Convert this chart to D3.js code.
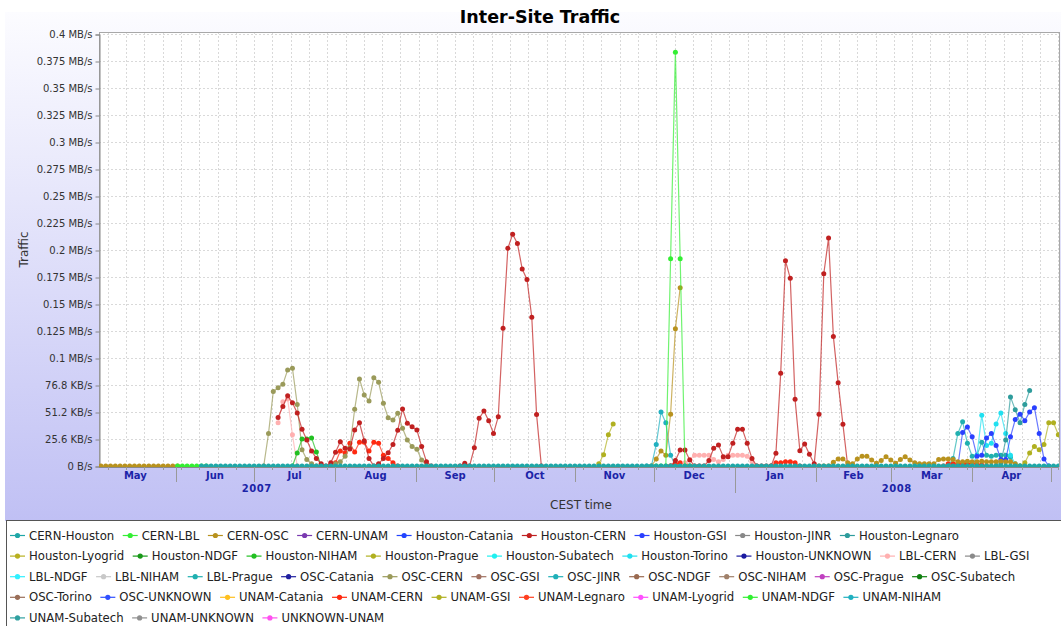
<!DOCTYPE html>
<html><head><meta charset="utf-8">
<script src="https://cdn.jsdelivr.net/npm/d3@7"></script>
<style>
body{margin:0;background:#fff;}
svg{display:block;font-family:"DejaVu Sans",sans-serif;}
</style>
</head><body>
<svg id="chart" width="1061" height="626"></svg>
<script>
// ---------------- data ----------------
const titleText = "Inter-Site Traffic";
const yAxisTitle = "Traffic";
const xAxisTitle = "CEST time";

const seriesNames = ["CERN-Houston","CERN-LBL","CERN-OSC","CERN-UNAM","Houston-Catania","Houston-CERN","Houston-GSI","Houston-JINR","Houston-Legnaro",
  "Houston-Lyogrid","Houston-NDGF","Houston-NIHAM","Houston-Prague","Houston-Subatech","Houston-Torino","Houston-UNKNOWN","LBL-CERN","LBL-GSI",
  "LBL-NDGF","LBL-NIHAM","LBL-Prague","OSC-Catania","OSC-CERN","OSC-GSI","OSC-JINR","OSC-NDGF","OSC-NIHAM","OSC-Prague","OSC-Subatech",
  "OSC-Torino","OSC-UNKNOWN","UNAM-Catania","UNAM-CERN","UNAM-GSI","UNAM-Legnaro","UNAM-Lyogrid","UNAM-NDGF","UNAM-NIHAM",
  "UNAM-Subatech","UNAM-UNKNOWN","UNKNOWN-UNAM"];
const seriesColors = ["#1fa7a7","#33ee33","#b8921e","#7a3ab0","#2244ff","#c02020","#2a40ff","#888888","#2e9c9c",
  "#b8b020","#189818","#22c022","#b0b020","#20f0f0","#20e0f0","#1a1aa0","#ffb0b0","#8a8a8a",
  "#30f0ff","#c8c8c8","#20b0b0","#2020a0","#9a9a5a","#a07060","#20b0b8","#9a6a50","#a0806a","#c040c0","#108010",
  "#9a6e58","#3050ff","#ffc020","#ff2a10","#b0b020","#ff4020","#ff50ff","#30f030","#20b0c0",
  "#30a0a0","#909090","#ff50f0"];

const yTickValues = [0,0.025,0.05,0.075,0.1,0.125,0.15,0.175,0.2,0.225,0.25,0.275,0.3,0.325,0.35,0.375,0.4];
const yTickLabels = ["0 B/s","25.6 KB/s","51.2 KB/s","76.8 KB/s","0.1 MB/s","0.125 MB/s","0.15 MB/s","0.175 MB/s","0.2 MB/s",
  "0.225 MB/s","0.25 MB/s","0.275 MB/s","0.3 MB/s","0.325 MB/s","0.35 MB/s","0.375 MB/s","0.4 MB/s"];
const monthLabels = ["May","Jun","Jul","Aug","Sep","Oct","Nov","Dec","Jan","Feb","Mar","Apr"];
const yearLabels = ["2007","2008"];

// samples: one every 44 hours from 2007-05-03 08:00 (index i)
const firstSample = new Date(2007,4,3,8);
const sampleHours = 44;
const xStart = new Date(2007,4,2,14);
const xEnd = new Date(2008,4,4,6);

// each series: list of [startIndex, values] segments (MB/s)
const cernHouston = [[21, [
  0,0,0,0,0,0,0,0,0,0,0,0,0,0,0,0,0,0,0,0,
  0,0,0,0,0,0,0,0,0,0,0,0,0,0,0,0,0,0,0,0,
  0,0,0,0,0,0,0,0,0,0,0,0,0,0,0,0,0,0,0,0,
  0,0,0,0,0,0,0,0,0,0,0,0,0,0,0,0,0,0,0,0,
  0,0,0,0,0,0,0,0,0,0,0,0,0,0,0,0,0,0,0,0,
  0,0,0,0,0,0,0,0,0,0,0,0,0,0,0,0,0,0,0,0,
  0,0,0,0,0,0,0,0,0,0,0,0,0,0,0,0,0,0,0,0,
  0,0,0,0,0,0,0,0,0,0,0,0,0,0,0,0,0,0,0,0,
  0,0,0,0,0,0,0,0,0,0,0,0,0,0,0,0,0,0,0,0]]];
const cernLbl = [[16, [0,0,0,0,0,0,0]], [116, [0,0,0,0.192,0.383,0.192,0,0]]];
const cernOsc = [
  [0, [0,0,0,0,0,0,0,0,0,0,0,0,0,0,0,0,0]],
  [115, [0,0.0065,0.014,0.010,0.048,0.127,0.165]],
  [150, [0,0,0,0.0035,0.0065,0.0065,0.003,0.002,0.0065,0.009,0.009,0.0055,0.0025,0.005,0.0085,0.0055,0.0025,0.006,0.0085,0.0055,
         0.003,0.002,0.002,0.002,0.002,0.006,0.0065,0.0065,0.006,0.004,0.004,0.0045,0.004,0.004,0.0045,0.004,0.004,0.004,0.0045,0.004,
         0.004,0.002,0]]];
const houstonCern = [
  [37, [0.045,0.055,0.065,0.0585,0.049,0.034,0.024,0.014,0.007,0.002,0,0.003,0.0127,0.0225,0.0164,0.0157,0.0333,0.040,0.0234,0.007,
        0,0.002,0.007,0.0123,0.020,0.033,0.0528,0.0395,0.0364,0.0333,0.018,0.004,0]],
  [75, [0,0.0025,0,0.017,0.0441,0.051,0.042,0.030,0.0457,0.1275,0.2016,0.2145,0.206,0.1824,0.1728,0.1377,0.0478,0]],
  [119, [0,0.005,0.0148,0.0148,0.0056,0,0,0,0.005,0.0164,0.0194,0.0086,0.0086,0.021,0.034,0.034,0.021,0.007,0,0,
         0,0,0.0117,0.0858,0.190,0.1738,0.0617,0.0142,0.0204,0.0108,0.002,0.048,0.178,0.211,0.120,0.077,0.0386,0]]];
const oscCern = [
  [34, [0,0.030,0.069,0.0725,0.0756,0.089,0.0905,0.057,0.015,0.006,0.002,0]],
  [49, [0.002,0.004,0.009,0.017,0.0525,0.0806,0.0657,0.0602,0.0818,0.0775,0.058,0.0447,0.0426,0.0488,0.035,0.024,0.018,0.0155,0.0056,0]]];
const lblCern = [
  [37, [0.040,0.0595,0.062,0.029,0]],
  [122, [0.003,0.006,0.010,0.010,0.010,0.010,0.006,0.004,0.006,0.010,0.010,0.010,0.010,0.009,0.004,0]]];
const unamCern = [
  [48, [0,0.003,0.014,0.012,0.021,0.013,0.022,0.022,0.014,0.022,0.021,0.010,0.007,0.003,0]],
  [119, [0,0.002,0.003,0.002,0]],
  [140, [0,0.003,0.003,0.004,0.004,0.003,0]],
  [176, [0,0.002,0.002,0.002,0.002,0.002,0.002,0.002,0.001,0]]];
const houstonNiham = [[40, [0,0.012,0.025,0.025,0.026,0.013,0]]];
const houstonPrague = [[104, [0.002,0.0105,0.029,0.039]]];
const unamNiham = [[114, [0,0,0.020,0.050,0.040,0.010,0]]];
const houstonGsi = [[179, [0,0.031,0.036,0.027,0.009,0.010,0.026,0.030,0.019,0.006,0.006,0.027,0.043,0.048,0.042,0.050,0.054,0.030,0.0065,0]]];
const houstonTorino = [[182, [0,0.010,0.047,0.019,0.021,0.039,0.049,0.030,0.010,0.002,0]]];
const lblPrague = [[177, [0,0.007,0.030,0.041,0.021,0.009,0.010,0.022,0.010,0.009,0.010,0.010,0.010,0.008,0]]];
const houstonLegnaro = [[187, [0,0.003,0.024,0.064,0.052,0.040,0.057,0.070]]];
const unamGsi = [[192, [0,0.003,0.012,0.018,0.015,0.020,0.040,0.040,0.029]]];

const seriesSegments = {
  "CERN-Houston": cernHouston, "CERN-LBL": cernLbl, "CERN-OSC": cernOsc, "Houston-CERN": houstonCern,
  "OSC-CERN": oscCern, "LBL-CERN": lblCern, "UNAM-CERN": unamCern, "Houston-NIHAM": houstonNiham,
  "Houston-Prague": houstonPrague, "UNAM-NIHAM": unamNiham, "Houston-GSI": houstonGsi, "Houston-Torino": houstonTorino,
  "LBL-Prague": lblPrague, "Houston-Legnaro": houstonLegnaro, "UNAM-GSI": unamGsi
};

// ---------------- drawing ----------------
const W = 1061, H = 626;
const plot = {left: 99, right: 1059, top: 32, bottom: 467};
const svg = d3.select("#chart");
const defs = svg.append("defs");

const grad = defs.append("linearGradient").attr("id","bg").attr("x1",0).attr("y1",0).attr("x2",0).attr("y2",1);
grad.append("stop").attr("offset","0%").attr("stop-color","#fcfcff");
grad.append("stop").attr("offset","100%").attr("stop-color","#c0c0f4");
defs.append("clipPath").attr("id","plotclip").append("rect")
  .attr("x",plot.left).attr("y",plot.top).attr("width",plot.right-plot.left).attr("height",plot.bottom-plot.top);

svg.append("rect").attr("width",W).attr("height",H).attr("fill","#fff");
svg.append("rect").attr("x",5).attr("y",12).attr("width",W-5).attr("height",509).attr("fill","url(#bg)");

const x = d3.scaleTime().domain([xStart, xEnd]).range([plot.left, plot.right]);
const y = d3.scaleLinear().domain([0, 0.4]).range([466, 34]);
const sampleDate = i => new Date(firstSample.getTime() + i * sampleHours * 3600e3);

// plot background
svg.append("rect").attr("x",plot.left).attr("y",plot.top).attr("width",plot.right-plot.left)
  .attr("height",plot.bottom-plot.top).attr("fill","#fff");

// grid
const weeks = d3.timeSunday.range(xStart, xEnd);
const gridG = svg.append("g").attr("stroke","#d9d9d9").attr("stroke-dasharray","2,2").attr("stroke-width",1);
weeks.forEach(d => {
  const px = Math.round(x(d)) + 0.5;
  gridG.append("line").attr("x1",px).attr("x2",px).attr("y1",plot.top).attr("y2",plot.bottom);
});
yTickValues.forEach(v => {
  const py = Math.round(y(v)) + 0.5;
  gridG.append("line").attr("x1",plot.left).attr("x2",plot.right).attr("y1",py).attr("y2",py);
});

// plot border
svg.append("rect").attr("x",plot.left+0.5).attr("y",plot.top+0.5).attr("width",plot.right-plot.left)
  .attr("height",plot.bottom-plot.top-1).attr("fill","none").attr("stroke","#a8a8a8");

// y axis
const yAxis = d3.axisLeft(y).tickValues(yTickValues).tickFormat((d,i)=>yTickLabels[i]).tickSize(4).tickPadding(3);
const yG = svg.append("g").attr("transform",`translate(${plot.left+0.5},0.5)`).call(yAxis);
yG.select(".domain").attr("stroke","#888");
yG.selectAll(".tick line").attr("stroke","#888");
yG.selectAll(".tick text").attr("font-family","DejaVu Sans").attr("font-size","10px").attr("fill","#333");

svg.append("text").attr("transform",`translate(28,${(plot.top+plot.bottom)/2}) rotate(-90)`)
  .attr("text-anchor","middle").attr("font-size","12px").attr("fill","#333").text(yAxisTitle);

// x axis
const xa = svg.append("g");
xa.append("line").attr("x1",plot.left).attr("x2",plot.right).attr("y1",plot.bottom+0.5).attr("y2",plot.bottom+0.5).attr("stroke","#888");
weeks.forEach(d => {
  const px = Math.round(x(d)) + 0.5;
  xa.append("line").attr("x1",px).attr("x2",px).attr("y1",plot.bottom).attr("y2",plot.bottom+3).attr("stroke","#999");
});
const monthStarts = d3.timeMonth.range(new Date(2007,4,1), new Date(2008,5,1));
monthStarts.forEach((m, k) => {
  const px = x(m);
  if (k > 0 && px >= plot.left && px <= plot.right) {
    const isYear = m.getMonth() === 0;
    xa.append("line").attr("x1",Math.round(px)+0.5).attr("x2",Math.round(px)+0.5)
      .attr("y1",plot.bottom).attr("y2",plot.bottom + (isYear ? 26 : 15)).attr("stroke","#999");
  }
  if (k < monthLabels.length) {
    const mid = new Date((m.getTime() + monthStarts[k+1].getTime())/2);
    xa.append("text").attr("x",x(mid)).attr("y",479).attr("text-anchor","middle")
      .attr("font-size","10px").attr("font-weight","bold").attr("fill","#1c24a8").text(monthLabels[k]);
  }
});
const yr1 = new Date(2007,6,2), jan08 = new Date(2008,0,1);
xa.append("text").attr("x",x(yr1)).attr("y",492).attr("text-anchor","middle").attr("font-size","10px")
  .attr("font-weight","bold").attr("letter-spacing","0.6px").attr("fill","#1c24a8").text(yearLabels[0]);
xa.append("text").attr("x",(x(jan08)+plot.right)/2).attr("y",492).attr("text-anchor","middle").attr("font-size","10px")
  .attr("font-weight","bold").attr("letter-spacing","0.6px").attr("fill","#1c24a8").text(yearLabels[1]);
svg.append("text").attr("x",(plot.left+plot.right)/2+2).attr("y",509).attr("text-anchor","middle")
  .attr("font-size","12px").attr("fill","#333").text(xAxisTitle);

// series
const dataG = svg.append("g").attr("clip-path","url(#plotclip)");
const line = d3.line().defined(d => d.v != null).x(d => x(d.date)).y(d => y(d.v));
for (let s = seriesNames.length - 1; s >= 0; s--) {
  const segs = seriesSegments[seriesNames[s]];
  if (!segs) continue;
  const col = seriesColors[s];
  segs.forEach(([start, vals]) => {
    const pts = vals.map((v, j) => ({date: sampleDate(start + j), v}));
    dataG.append("path").datum(pts).attr("d", line).attr("fill","none")
      .attr("stroke", col).attr("stroke-width",1.2).attr("stroke-opacity",0.7);
    dataG.selectAll(null).data(pts.filter(p => p.v != null)).enter().append("circle")
      .attr("cx", d => x(d.date)).attr("cy", d => y(d.v)).attr("r", 2.5).attr("fill", col);
  });
}

svg.append("text").attr("x",540).attr("y",23).attr("text-anchor","middle").attr("font-size","17.5px")
  .attr("font-weight","bold").attr("fill","#000").text(titleText);

// legend
svg.append("rect").attr("x",6.5).attr("y",520.5).attr("width",W).attr("height",120)
  .attr("fill","#fff").attr("stroke","#555");
const lg = svg.append("g").attr("font-size","11.7px").attr("fill","#222");
let lx = 29, row = 0;
seriesNames.forEach((name, i) => {
  const t = lg.append("text").text(name);
  const w = t.node().getComputedTextLength();
  if (lx + w > 1052 && lx > 29) { row++; lx = 29; }
  const base = 539.5 + row * 20.6;
  t.attr("x", lx).attr("y", base);
  const cy = base - 4;
  lg.append("line").attr("x1",lx-19).attr("x2",lx-4).attr("y1",cy).attr("y2",cy)
    .attr("stroke",seriesColors[i]).attr("stroke-width",1.2);
  lg.append("circle").attr("cx",lx-11.5).attr("cy",cy).attr("r",2.6).attr("fill",seriesColors[i]);
  lx += w + 27.5;
});
</script>
</body></html>
